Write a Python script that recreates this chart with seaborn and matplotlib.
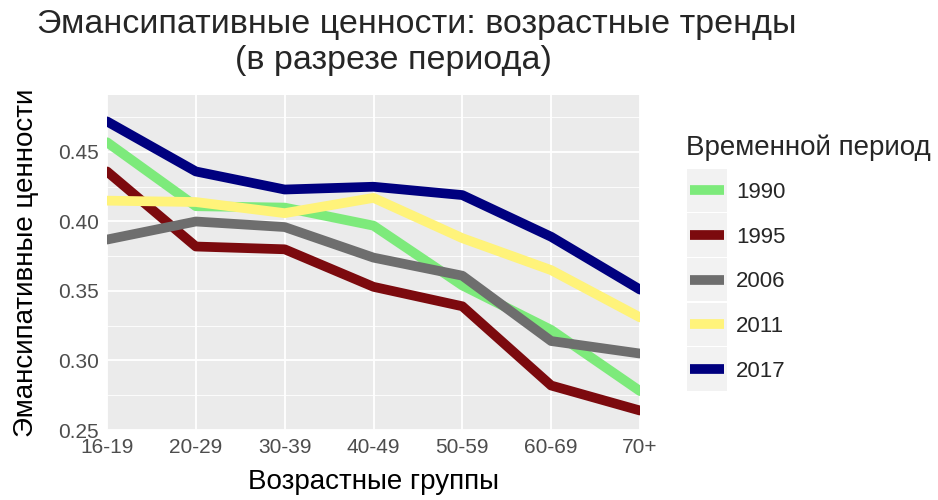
import pandas as pd
import matplotlib
matplotlib.use("Agg")
import matplotlib.pyplot as plt
import seaborn as sns
from matplotlib.ticker import MultipleLocator
from matplotlib.patches import Rectangle
from matplotlib.lines import Line2D
from matplotlib.legend_handler import HandlerBase

# data
age_groups = ["16-19", "20-29", "30-39", "40-49", "50-59", "60-69", "70+"]
periods = ["1990", "1995", "2006", "2011", "2017"]
v1990 = [0.457, 0.411, 0.410, 0.397, 0.354, 0.322, 0.278]
v1995 = [0.436, 0.382, 0.380, 0.353, 0.339, 0.282, 0.264]
v2006 = [0.387, 0.400, 0.396, 0.374, 0.361, 0.314, 0.305]
v2011 = [0.415, 0.414, 0.406, 0.417, 0.388, 0.365, 0.331]
v2017 = [0.472, 0.436, 0.423, 0.425, 0.419, 0.389, 0.351]
colors = ["#7DEA7B", "#7C0A0E", "#6E6E6E", "#FFF37A", "#00007F"]

values = [v1990, v1995, v2006, v2011, v2017]
rows = []
for p, vals in zip(periods, values):
    for a, v in zip(age_groups, vals):
        rows.append({"age": a, "value": v, "period": p})
df = pd.DataFrame(rows)

sns.set_theme(style="darkgrid", rc={
    "axes.facecolor": "#EBEBEB",
    "grid.color": "white",
    "grid.linewidth": 1.3,
    "xtick.major.size": 4,
    "ytick.major.size": 4,
    "xtick.color": "#333333",
    "ytick.color": "#333333",
})
plt.rcParams["font.family"] = ["Liberation Sans", "DejaVu Sans"]

fig = plt.figure(figsize=(9.38, 5.0), dpi=100)
ax = fig.add_axes([107 / 938, 0.14, (640 - 107) / 938, 0.67])

sns.lineplot(data=df, x="age", y="value", hue="period", palette=colors,
             linewidth=7, sort=False, ax=ax, legend=False)

ax.set_xlim(0, len(age_groups) - 1)
ax.set_ylim(0.25, 0.491)
ax.yaxis.set_major_locator(MultipleLocator(0.05))
ax.yaxis.set_minor_locator(MultipleLocator(0.025))
ax.grid(which="minor", axis="y", color="white", linewidth=0.6)
ax.yaxis.set_major_formatter(matplotlib.ticker.FormatStrFormatter("%.2f"))
ax.tick_params(axis="both", labelsize=15, labelcolor="#4D4D4D", pad=2)
for s in ax.spines.values():
    s.set_visible(False)

ax.set_xlabel("Возрастные группы", fontsize=20, color="black")
ax.set_ylabel("Эмансипативные ценности", fontsize=20, color="black")
ax.xaxis.set_label_coords(0.5, -0.115)
ax.yaxis.set_label_coords(-0.128, 0.5)

fig.text(417 / 938, 1 - 24 / 500, "Эмансипативные ценности: возрастные тренды",
         ha="center", va="center", fontsize=24.5)
fig.text(393 / 938, 1 - 60 / 500, "(в разрезе периода)",
         ha="center", va="center", fontsize=24.5)


class KeyHandler(HandlerBase):
    def create_artists(self, legend, orig_handle, xdescent, ydescent,
                       width, height, fontsize, trans):
        key_h = 31
        cy = height / 2 - ydescent
        bg = Rectangle((-xdescent, cy - key_h / 2), width, key_h,
                       facecolor="#F2F2F2", edgecolor="none", transform=trans)
        ln = Line2D([-xdescent + 2, -xdescent + width - 2], [cy, cy],
                    color=orig_handle.get_color(), linewidth=7,
                    solid_capstyle="butt", transform=trans)
        return [bg, ln]


# legend title as its own text, keys below it
fig.text(686 / 938, 1 - 148 / 500, "Временной период",
         ha="left", va="center", fontsize=20)
handles = [Line2D([], [], color=c) for c in colors]
leg = fig.legend(handles, periods,
                 loc="upper left", bbox_to_anchor=(676 / 938, 1 - 171 / 500),
                 frameon=False, fontsize=16,
                 handler_map={Line2D: KeyHandler()},
                 handlelength=1.8, handleheight=0.7, labelspacing=1.065,
                 handletextpad=0.4, borderpad=0)

plt.savefig("out.png", dpi=100)
